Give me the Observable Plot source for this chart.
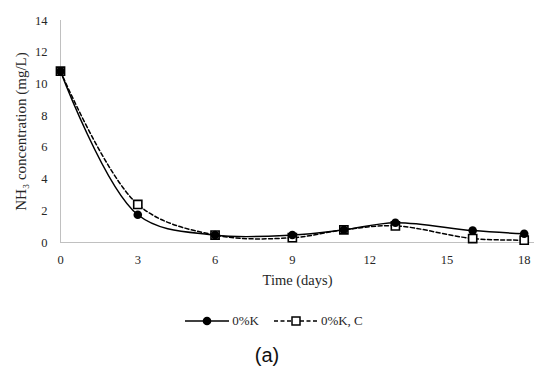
<!DOCTYPE html>
<html>
<head>
<meta charset="utf-8">
<script src="https://cdn.jsdelivr.net/npm/d3@7"></script>
<script src="https://cdn.jsdelivr.net/npm/@observablehq/plot@0.6"></script>
<style>
  body { margin: 0; background: #fff; font-family: "Liberation Serif", serif; }
  #chart { width: 534px; height: 300px; overflow: hidden; }
  #chart svg { font-family: "Liberation Serif", serif !important; }
  #chart svg text { font-family: "Liberation Serif", serif !important; fill: #262626; }
  .legend { display: flex; justify-content: center; align-items: center; height: 24px; margin-top: 9px; font-size: 13px; color: #262626; padding-left: 14px; }
  .legend .item { display: flex; align-items: center; }
  .legend svg { margin-right: 3px; }
  .caption { text-align: center; font-family: "Liberation Sans", sans-serif; font-size: 20px; line-height: 23px; margin-top: 11px; color: #111; }
</style>
</head>
<body>
<div id="chart"></div>
<script>
const days = [0, 3, 6, 9, 11, 13, 16, 18];
const k0 = [10.8, 1.75, 0.47, 0.47, 0.8, 1.25, 0.75, 0.55];
const k0c = [10.8, 2.4, 0.47, 0.3, 0.8, 1.05, 0.25, 0.15];
const xTicks = [0, 3, 6, 9, 12, 15, 18];
const yTicks = [0, 2, 4, 6, 8, 10, 12, 14];
const seriesNames = ["0%K", "0%K, C"];
const xLabel = "Time (days)";
const yLabel = "NH₃ concentration (mg/L)";

const d1 = days.map((d, i) => ({day: d, v: k0[i]}));
const d2 = days.map((d, i) => ({day: d, v: k0c[i]}));

const plot = Plot.plot({
  width: 534,
  height: 300,
  marginLeft: 60,
  marginRight: 0,
  marginTop: 20,
  marginBottom: 58,
  style: {fontFamily: "'Liberation Serif', serif", fontSize: "12px", background: "#fff"},
  x: {domain: [0, 18.4], label: null},
  y: {domain: [0, 14], label: null},
  marks: [
    Plot.axisX(xTicks, {tickSize: 0, tickPadding: 13, label: null}),
    Plot.axisY(yTicks, {tickSize: 0, tickPadding: 13, label: null}),
    Plot.ruleY([0], {stroke: "#c0c0c0", strokeWidth: 1}),
    Plot.ruleX([0], {stroke: "#c0c0c0", strokeWidth: 1}),
    Plot.line(d2, {x: "day", y: "v", curve: "catmull-rom", stroke: "#000", strokeWidth: 1.5, strokeDasharray: "4,2.5"}),
    Plot.line(d1, {x: "day", y: "v", curve: "catmull-rom", stroke: "#000", strokeWidth: 1.5}),
    Plot.dot(d2, {x: "day", y: "v", symbol: "square", r: 4.6, fill: "#fff", stroke: "#000", strokeWidth: 1.6}),
    Plot.dot(d1, {x: "day", y: "v", symbol: "circle", r: 4.3, fill: "#000", stroke: "none"}),
    Plot.text([xLabel], {frameAnchor: "bottom", textAnchor: "middle", lineAnchor: "middle", dy: 38, fontSize: 14.5, fill: "#262626"}),
    Plot.text([yLabel], {frameAnchor: "left", textAnchor: "middle", lineAnchor: "middle", dx: -39, rotate: -90, fontSize: 15, fill: "#262626"})
  ]
});
document.getElementById("chart").appendChild(plot);

// force tick-label typography (serif, 12.5px) on the axis groups
d3.select(plot).selectAll("g[aria-label$='tick label']").each(function () {
  this.setAttribute("font-size", "12.5");
  this.setAttribute("font-family", "Liberation Serif, serif");
  d3.select(this).selectAll("text").each(function () {
    this.style.setProperty("font-size", "12.5px", "important");
    this.style.setProperty("font-family", "'Liberation Serif', serif", "important");
  });
});

const legend = document.createElement("div");
legend.className = "legend";
legend.innerHTML = `
  <div class="item"><svg width="44" height="12"><line x1="0" y1="6" x2="44" y2="6" stroke="#000" stroke-width="1.5"/><circle cx="22" cy="6" r="4.3" fill="#000"/></svg><span>${seriesNames[0]}</span></div>
  <div class="item" style="margin-left:15px"><svg width="44" height="12"><line x1="0" y1="6" x2="44" y2="6" stroke="#000" stroke-width="1.5" stroke-dasharray="4,2.5"/><rect x="18" y="2" width="8" height="8" fill="#fff" stroke="#000" stroke-width="1.5"/></svg><span>${seriesNames[1]}</span></div>`;
document.body.appendChild(legend);

const cap = document.createElement("div");
cap.className = "caption";
cap.textContent = "(a)";
document.body.appendChild(cap);
</script>
</body>
</html>
